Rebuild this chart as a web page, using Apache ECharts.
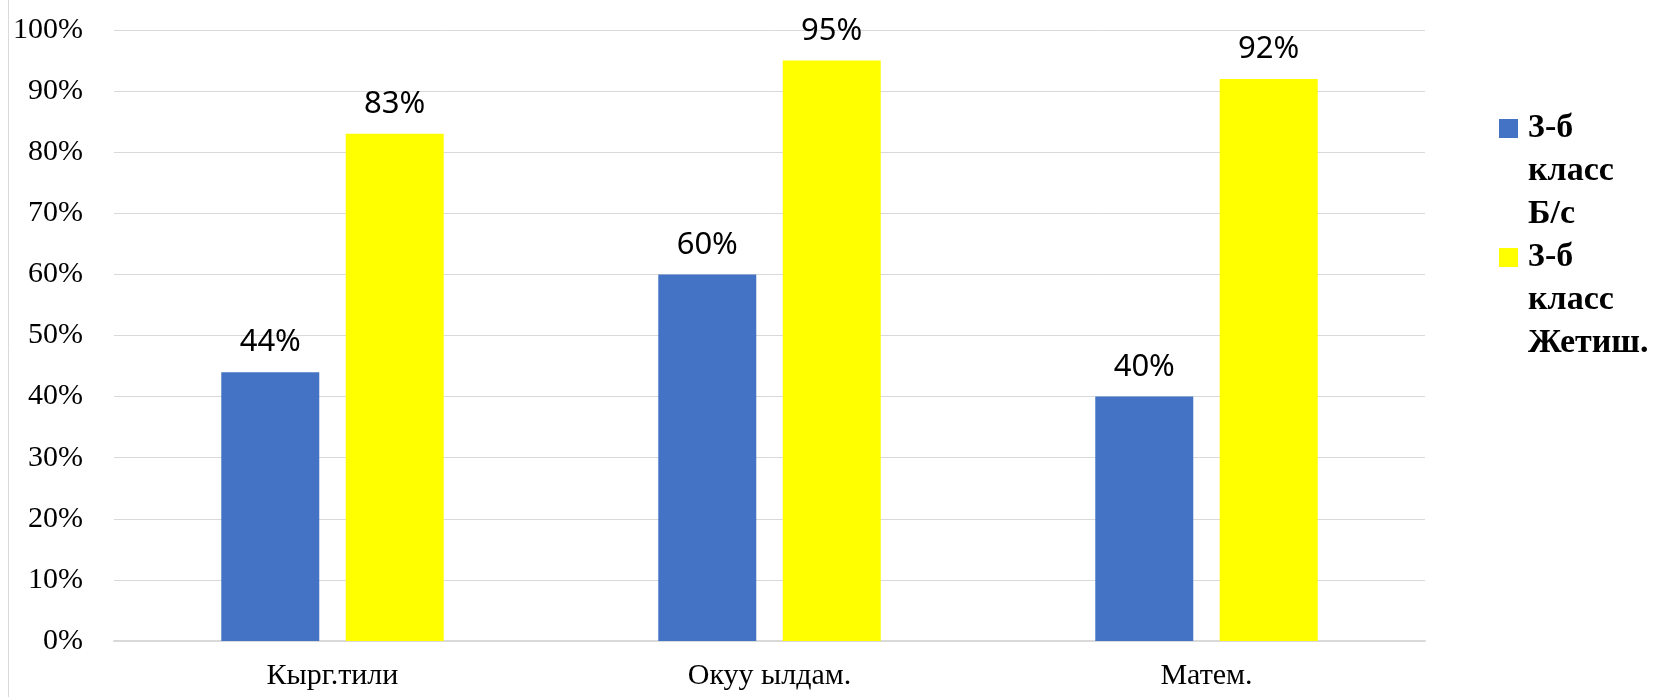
<!DOCTYPE html>
<html>
<head>
<meta charset="utf-8">
<script src="https://cdn.jsdelivr.net/npm/echarts@6/dist/echarts.min.js"></script>
<style>
  html, body { margin: 0; padding: 0; background: #ffffff; }
  #chart { width: 1664px; height: 697px; }
</style>
</head>
<body>
<div id="chart"></div>
<script>
const categories = ['Кырг.тили', 'Окуу ылдам.', 'Матем.'];
const seriesNames = ['3-б\nкласс\nБ/с', '3-б\nкласс\nЖетиш.'];
const bsValues = [44, 60, 40];
const zhetishValues = [83, 95, 92];
const yTicks = { min: 0, max: 100, interval: 10 };

const chart = echarts.init(document.getElementById('chart'), null, { renderer: 'canvas' });

const valueLabel = {
  show: true,
  position: 'top',
  distance: 14,
  formatter: '{c}%',
  fontFamily: 'Noto Sans',
  fontSize: 31,
  color: '#000000'
};

chart.setOption({
  animation: false,
  backgroundColor: '#ffffff',
  grid: { left: 114, right: 239, top: 30, bottom: 56, containLabel: false },
  graphic: [{
    type: 'line',
    shape: { x1: 8.5, y1: 0, x2: 8.5, y2: 697 },
    style: { stroke: '#d9d9d9', lineWidth: 1 },
    silent: true
  }],
  legend: {
    orient: 'vertical',
    left: 1499,
    top: 21,
    padding: 0,
    itemGap: -86,
    itemWidth: 19,
    itemHeight: 19,
    icon: 'rect',
    data: seriesNames,
    // two blank lines above so that the first text line sits level with the marker
    formatter: function (name) { return '\n\n' + name; },
    textStyle: {
      fontFamily: 'Liberation Serif',
      fontWeight: 'bold',
      fontSize: 34,
      lineHeight: 43,
      color: '#000000',
      padding: [0, 0, 0, 5]
    }
  },
  xAxis: {
    type: 'category',
    data: categories,
    axisLine: { show: true, lineStyle: { color: '#d9d9d9', width: 2 } },
    axisTick: { show: false },
    axisLabel: {
      fontFamily: 'Liberation Serif',
      fontSize: 30,
      color: '#000000',
      margin: 20
    }
  },
  yAxis: {
    type: 'value',
    min: yTicks.min,
    max: yTicks.max,
    interval: yTicks.interval,
    axisLine: { show: false },
    axisTick: { show: false },
    splitLine: { lineStyle: { color: '#d9d9d9', width: 1 } },
    axisLabel: {
      formatter: '{value}%',
      fontFamily: 'Liberation Serif',
      fontSize: 30,
      color: '#000000',
      margin: 31
    }
  },
  series: [
    {
      name: seriesNames[0],
      type: 'bar',
      data: bsValues,
      barWidth: 98,
      barGap: '27%',
      itemStyle: { color: '#4472C4' },
      label: valueLabel
    },
    {
      name: seriesNames[1],
      type: 'bar',
      data: zhetishValues,
      barWidth: 98,
      barGap: '27%',
      itemStyle: { color: '#FFFF00' },
      label: valueLabel
    }
  ]
});
</script>
</body>
</html>
